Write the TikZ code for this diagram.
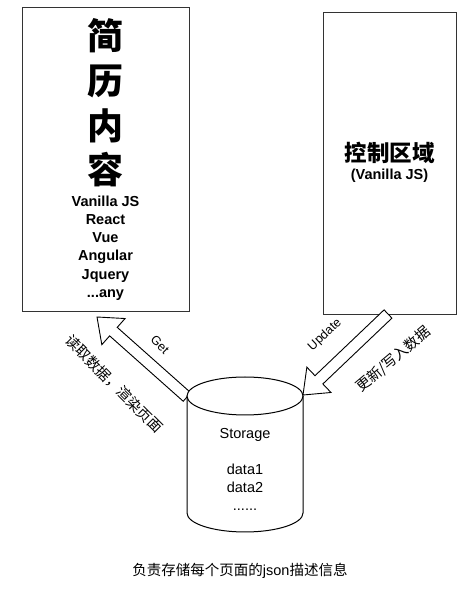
\documentclass[tikz,border=0pt]{standalone}
\usepackage{fontspec}
\usepackage{tikz}
\usetikzlibrary{calc}
\setmainfont{Liberation Sans}
\newfontfamily\cjk{Noto Sans CJK SC}
\tikzset{panel/.style = {draw=black!80, line width=1pt, fill=white, inner sep=0, anchor=north west}}
\tikzset{flow/.style = {draw, line width=0.9pt, fill=white, line join=miter}}
\tikzset{cyl/.style = {draw, line width=1pt, fill=white}}
\tikzset{tag/.style = {font=\fontsize{12.5}{15}\selectfont, inner sep=0}}
\tikzset{note/.style = {font=\cjk\fontsize{14.5}{17}\selectfont, inner sep=0}}
\newcommand{\blockarrow}[2]{%
  \coordinate (ab) at ($(#2)!22pt!(#1)$);
  \draw [flow] ($(#1)!5.7pt!90:(#2)$) -- ($(ab)!5.7pt!90:(#2)$) -- ($(ab)!17.5pt!90:(#2)$) -- (#2)
    -- ($(ab)!17.5pt!-90:(#2)$) -- ($(ab)!5.7pt!-90:(#2)$) -- ($(#1)!5.7pt!-90:(#2)$) -- cycle;}

\begin{document}
\begin{tikzpicture}[x=1pt, y=1pt]
    \useasboundingbox (0, 0) rectangle (473, 595);

    \node [panel, minimum width=167, minimum height=304] (resume) at (22, 588) {};
    \node [panel, minimum width=133, minimum height=302] (ctrl) at (323, 583) {};

    \node [align=center, inner sep=0, font=\cjk\bfseries\fontsize{36}{44.7}\selectfont] (resumetitle) at (105.5, 492) {简\\历\\内\\容};
    \node [align=center, inner sep=0, font=\bfseries\fontsize{14.5}{18.2}\selectfont] (resumelist) at (105.5, 347) {Vanilla JS\\React\\Vue\\Angular\\Jquery\\...any};

    \node [inner sep=0, font=\cjk\bfseries\fontsize{22.5}{27}\selectfont] (ctrltitle) at (389.5, 442.5) {控制区域};
    \node [inner sep=0, font=\bfseries\fontsize{14.5}{17}\selectfont] (ctrlsub) at (389.5, 419.5) {(Vanilla JS)};

    % arrows between storage and the two panels
    \coordinate (gettail) at (187, 198);
    \coordinate (gettip) at (97, 278);
    \coordinate (updtail) at (388, 281);
    \coordinate (updtip) at (303, 200);
    \blockarrow{gettail}{gettip}
    \blockarrow{updtail}{updtip}

    % storage cylinder
    \draw [cyl] (187, 199) -- (187, 82) arc [start angle=180, end angle=360, x radius=58, y radius=19] -- (303, 199);
    \draw [cyl] (245, 199) ellipse [x radius=58, y radius=19];
    \node [align=center, inner sep=0, font=\fontsize{14.5}{18}\selectfont] (store) at (245, 126) {Storage\\[18pt]data1\\data2\\......};

    \node [tag, rotate=-45] (getlbl) at (160, 250) {Get};
    \node [tag, rotate=43] (updlbl) at (325, 260) {Update};
    \node [note, rotate=-45] (readlbl) at (114, 211) {读取数据，渲染页面};
    \node [note, rotate=40] (writelbl) at (393.5, 235.5) {更新/写入数据};

    \node [inner sep=0, font=\fontsize{14.5}{17}\selectfont] (caption) at (240, 24) {{\cjk 负责存储每个页面的}json{\cjk 描述信息}};
\end{tikzpicture}
\end{document}
